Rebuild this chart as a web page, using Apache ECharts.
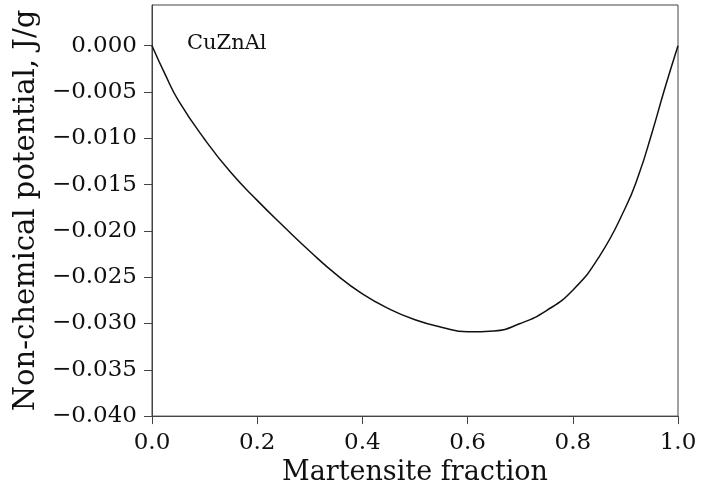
<!DOCTYPE html>
<html>
<head>
<meta charset="utf-8">
<script src="https://cdn.jsdelivr.net/npm/echarts@6/dist/echarts.min.js"></script>
<style>
  html, body { margin: 0; padding: 0; background: #fff; }
  #chart { width: 703px; height: 491px; }
</style>
</head>
<body>
<div id="chart"></div>
<script>
// martensite fraction vs non-chemical potential (J/g)
const fraction = [0, 0.025, 0.05, 0.10, 0.15, 0.20, 0.25, 0.30, 0.35, 0.40, 0.45, 0.50, 0.55, 0.60, 0.65, 0.70, 0.75, 0.80, 0.85, 0.90, 0.925, 0.95, 0.975, 1.0];
const potential = [0, -0.0031, -0.0059, -0.0101, -0.0137, -0.0167, -0.0195, -0.0222, -0.0247, -0.0268, -0.0284, -0.0296, -0.0304, -0.0309, -0.0308, -0.0300, -0.0286, -0.0264, -0.0228, -0.0175, -0.0140, -0.0095, -0.0046, 0];
const yTicks = [-0.040, -0.035, -0.030, -0.025, -0.020, -0.015, -0.010, -0.005, 0.000];

const font = 'DejaVu Serif';
const chart = echarts.init(document.getElementById('chart'));

function fmtY(v) {
  if (Math.abs(v) < 1e-9) return '0.000';
  return (v < 0 ? '\u2212' : '') + Math.abs(v).toFixed(3);
}

chart.setOption({
  animation: false,
  grid: {
    left: 152, top: 5, right: 25, bottom: 72,
    show: true, borderColor: '#444', borderWidth: 1
  },
  graphic: [{
    type: 'text', left: 187, top: 33,
    style: { text: 'CuZnAl', font: '21px "DejaVu Serif"', fill: '#111' }
  }],
  xAxis: {
    type: 'value', min: 0, max: 1, interval: 0.2,
    name: 'Martensite fraction', nameLocation: 'middle', nameGap: 40,
    nameTextStyle: { fontFamily: font, fontSize: 27, color: '#111' },
    axisLine: { onZero: false, lineStyle: { color: '#444', width: 1 } },
    axisTick: { show: true, inside: false, length: 8, lineStyle: { color: '#444' } },
    axisLabel: { fontFamily: font, fontSize: 23, color: '#111', margin: 15,
      formatter: v => v.toFixed(1) },
    splitLine: { show: false }
  },
  yAxis: {
    type: 'value', min: -0.04, max: 0.0044,
    name: 'Non-chemical potential, J/g', nameLocation: 'middle', nameGap: 110,
    nameTextStyle: { fontFamily: font, fontSize: 29, color: '#111' },
    axisLine: { show: true, onZero: false, lineStyle: { color: '#444', width: 1 } },
    axisTick: { show: true, inside: false, length: 8, customValues: yTicks, lineStyle: { color: '#444' } },
    axisLabel: { fontFamily: font, fontSize: 23, color: '#111', margin: 15,
      customValues: yTicks, formatter: fmtY },
    splitLine: { show: false }
  },
  series: [{
    type: 'line',
    data: fraction.map((x, i) => [x, potential[i]]),
    smooth: 0.5,
    showSymbol: false,
    lineStyle: { color: '#111', width: 1.5 }
  }]
});
</script>
</body>
</html>
